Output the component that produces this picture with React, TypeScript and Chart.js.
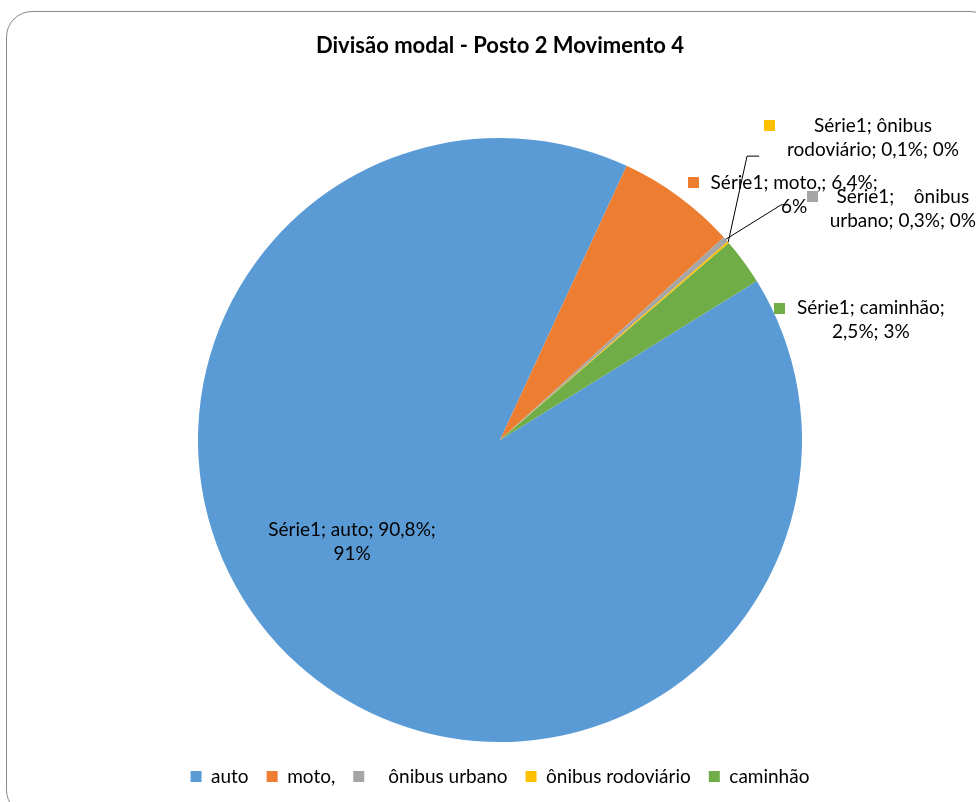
import React, { useEffect, useRef } from "react";
import { Chart, registerables } from "chart.js";

Chart.register(...registerables);

// ---- data ----
const chartTitle = "Divisão modal - Posto 2 Movimento 4";
const seriesName = "Série1";
const categories = ["auto", "moto,", "   ônibus urbano", "ônibus rodoviário", "caminhão"];
const values = [90.8, 6.4, 0.3, 0.1, 2.5];
const percentLabels = ["91%", "6%", "0%", "0%", "3%"];
const colors = ["#5B9BD5", "#ED7D31", "#A5A5A5", "#FFC000", "#70AD47"];

// ---- label placement (fractions of pie radius, relative to pie centre) ----
type LabelPos = { x: number; y: number; wrap: number; leader?: number[][] };
const labelLayout: LabelPos[] = [
  { x: -0.49, y: 0.298, wrap: 190 },
  { x: 0.974, y: -0.851, wrap: 190 },
  { x: 1.334, y: -0.805, wrap: 165, leader: [[0.93, -0.778], [0.954, -0.781]] },
  { x: 1.235, y: -1.04, wrap: 190, leader: [[0.818, -0.94], [0.858, -0.94]] },
  { x: 1.228, y: -0.437, wrap: 170 },
];

const FONT = "Lato, 'Open Sans', sans-serif";
const LABEL_SIZE = 19;

function fmtValue(v: number) {
  return v.toFixed(1).replace(".", ",") + "%";
}

function wrapText(ctx: CanvasRenderingContext2D, text: string, maxW: number) {
  const parts = text.split(/( +)/);
  const lines: string[] = [];
  let cur = parts[0];
  for (let i = 1; i < parts.length; i += 2) {
    const sep = parts[i];
    const word = parts[i + 1] ?? "";
    const cand = cur + sep + word;
    if (ctx.measureText(cand).width > maxW && cur.length) {
      lines.push(cur);
      cur = word;
    } else {
      cur = cand;
    }
  }
  lines.push(cur);
  return lines;
}

const dataLabelPlugin = {
  id: "excelDataLabels",
  afterDatasetsDraw(chart: any) {
    const ctx: CanvasRenderingContext2D = chart.ctx;
    const meta = chart.getDatasetMeta(0);
    ctx.save();
    ctx.font = `${LABEL_SIZE}px ${FONT}`;
    ctx.textBaseline = "middle";
    ctx.textAlign = "center";
    meta.data.forEach((arc: any, i: number) => {
      const p = arc.getProps(["x", "y", "outerRadius", "startAngle", "endAngle"], true);
      const cx = p.x, cy = p.y, r = p.outerRadius;
      const L = labelLayout[i];
      const text = `${seriesName}; ${categories[i]}; ${fmtValue(values[i])}; ${percentLabels[i]}`;
      const lines = wrapText(ctx, text, L.wrap);
      const bx = cx + L.x * r;
      const by = cy + L.y * r;
      const maxW = Math.max(...lines.map((l) => ctx.measureText(l).width));
      if (L.leader) {
        const mid = (p.startAngle + p.endAngle) / 2;
        ctx.beginPath();
        ctx.moveTo(cx + r * Math.cos(mid), cy + r * Math.sin(mid));
        L.leader.forEach((pt) => ctx.lineTo(cx + pt[0] * r, cy + pt[1] * r));
        ctx.strokeStyle = "#000";
        ctx.lineWidth = 1;
        ctx.stroke();
      }
      ctx.fillStyle = colors[i];
      ctx.fillRect(Math.round(bx - maxW / 2 - 12 - 11), Math.round(by - 5.5), 11, 11);
      ctx.fillStyle = "#000";
      lines.forEach((l, k) => ctx.fillText(l, bx, by + k * 24));
    });
    ctx.restore();
  },
};

export default function App() {
  const ref = useRef<HTMLCanvasElement | null>(null);
  useEffect(() => {
    if (!ref.current) return;
    const chart = new Chart(ref.current, {
      type: "pie",
      data: {
        labels: categories,
        datasets: [
          {
            label: seriesName,
            data: values,
            backgroundColor: colors,
            borderWidth: 0,
            hoverOffset: 0,
          },
        ],
      },
      options: {
        responsive: false,
        animation: false,
        events: [],
        rotation: 58.25,
        radius: 302,
        layout: { padding: { top: 0, left: 24, right: 0, bottom: 6 } },
        plugins: {
          tooltip: { enabled: false },
          title: {
            display: true,
            text: chartTitle,
            color: "#000",
            font: { family: FONT, size: 22, weight: "bold" },
            padding: { top: 33, bottom: 71.6 },
          },
          legend: {
            display: true,
            position: "bottom",
            labels: {
              boxWidth: 11,
              boxHeight: 11,
              padding: 18,
              color: "#000",
              font: { family: FONT, size: LABEL_SIZE },
            },
          },
        },
      },
      plugins: [dataLabelPlugin],
    });
    return () => chart.destroy();
  }, []);

  return (
    <div
      style={{
        position: "fixed",
        left: 0,
        top: 0,
        width: 976,
        height: 802,
        background: "#fff",
        overflow: "hidden",
      }}
    >
      <div
        style={{
          position: "absolute",
          left: 6,
          top: 11,
          width: 990,
          height: 805,
          border: "1px solid #8a8a8a",
          borderRadius: 26,
          boxSizing: "border-box",
        }}
      />
      <canvas
        ref={ref}
        width={976}
        height={802}
        style={{ position: "absolute", left: 0, top: 0, width: 976, height: 802 }}
      />
    </div>
  );
}
